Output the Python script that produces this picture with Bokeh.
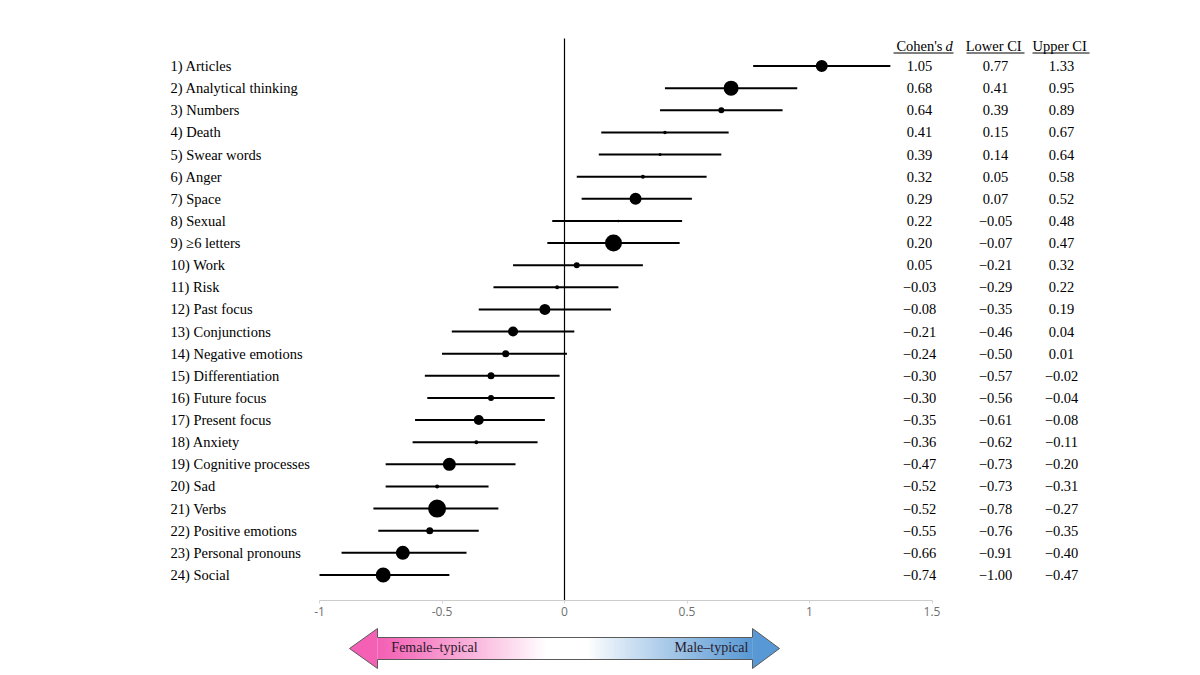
from bokeh.plotting import figure
from bokeh.models import Range1d, FixedTicker, ColumnDataSource
from bokeh.layouts import column
from bokeh.embed import file_html
from bokeh.resources import INLINE
from bokeh.core.properties import value

# ---- data -------------------------------------------------------------
categories = [
    "Articles", "Analytical  thinking", "Numbers", "Death", "Swear  words",
    "Anger", "Space", "Sexual", "\u22656 letters", "Work", "Risk",
    "Past focus", "Conjunctions", "Negative emotions", "Differentiation",
    "Future focus", "Present focus", "Anxiety", "Cognitive  processes",
    "Sad", "Verbs", "Positive  emotions", "Personal pronouns", "Social",
]
cohens_d = [1.05, 0.68, 0.64, 0.41, 0.39, 0.32, 0.29, 0.22, 0.20, 0.05,
            -0.03, -0.08, -0.21, -0.24, -0.30, -0.30, -0.35, -0.36, -0.47,
            -0.52, -0.52, -0.55, -0.66, -0.74]
lower_ci = [0.77, 0.41, 0.39, 0.15, 0.14, 0.05, 0.07, -0.05, -0.07, -0.21,
            -0.29, -0.35, -0.46, -0.50, -0.57, -0.56, -0.61, -0.62, -0.73,
            -0.73, -0.78, -0.76, -0.91, -1.00]
upper_ci = [1.33, 0.95, 0.89, 0.67, 0.64, 0.58, 0.52, 0.48, 0.47, 0.32,
            0.22, 0.19, 0.04, 0.01, -0.02, -0.04, -0.08, -0.11, -0.20,
            -0.31, -0.27, -0.35, -0.40, -0.47]
# relative weight of each category (marker diameter, px)
weight = [12, 15, 6, 3.5, 3, 4, 12, 2.5, 17, 6, 4, 11, 10, 7, 7, 6, 10, 4,
          13, 4, 18, 7, 14, 15]
x_ticks = [-1, -0.5, 0, 0.5, 1, 1.5]
x_tick_labels = ["-1", "-0.5", "0", "0.5", "1", "1.5"]


def fmt(v):
    s = f"{abs(v):.2f}"
    return ("\u2212" + s) if v < 0 else s


rows = list(range(1, len(categories) + 1))
src = ColumnDataSource(dict(
    row=rows,
    label=[f"{i}) {c}" for i, c in zip(rows, categories)],
    d=cohens_d, lo=lower_ci, hi=upper_ci, w=weight,
    d_txt=[fmt(v) for v in cohens_d],
    lo_txt=[fmt(v) for v in lower_ci],
    hi_txt=[fmt(v) for v in upper_ci],
))

# ---- geometry of the layout (px -> data) ------------------------------
PX_PER_UNIT = 245.0
ZERO_PX = 564.0


def xd(px):
    return (px - ZERO_PX) / PX_PER_UNIT


ROW0_PX, ROW_STEP = 65.5, 22.13
FRAME_H = 600


def yd(px):
    return 1 + (px - ROW0_PX) / ROW_STEP


serif = value("Liberation Serif")
FS = "14.5px"

p = figure(width=1200, height=625, output_backend="svg", toolbar_location=None,
           x_range=Range1d(xd(0), xd(1200)),
           y_range=Range1d(yd(FRAME_H), yd(0)),
           y_axis_location=None,
           min_border_left=0, min_border_right=0, min_border_top=0,
           min_border_bottom=25)
p.outline_line_color = None
p.xgrid.visible = False
p.ygrid.visible = False
p.background_fill_color = "white"
p.border_fill_color = "white"

ax = p.xaxis[0]
ax.ticker = FixedTicker(ticks=x_ticks)
ax.major_label_overrides = {t: s for t, s in zip(x_ticks, x_tick_labels)}
ax.bounds = (x_ticks[0], x_ticks[-1])
ax.axis_line_color = "#cccccc"
ax.major_tick_line_color = "#d4d4d4"
ax.major_tick_out = 3
ax.major_tick_in = 0
ax.minor_tick_line_color = None
ax.major_label_text_font = "Open Sans"
ax.major_label_text_font_size = "12px"
ax.major_label_text_color = "#707070"
ax.major_label_standoff = 3

# zero reference line
p.segment(x0=[0], y0=[yd(38)], x1=[0], y1=[yd(FRAME_H)],
          line_color="black", line_width=1.2)

# confidence intervals and point estimates
p.segment(x0="lo", y0="row", x1="hi", y1="row", source=src,
          line_color="black", line_width=2)
p.scatter(x="d", y="row", size="w", source=src, fill_color="black",
          line_color=None)

# category labels
p.text(x=xd(170), y="row", text="label", source=src, text_font=serif,
       text_font_size=FS, text_baseline="middle", text_align="left",
       text_color="black")

# table columns
col_d, col_lo, col_hi = xd(919), xd(995), xd(1061)
for cx, key in ((col_d, "d_txt"), (col_lo, "lo_txt"), (col_hi, "hi_txt")):
    p.text(x=cx, y="row", text=key, source=src, text_font=serif,
           text_font_size=FS, text_baseline="middle",
           text_align="center", text_color="black")

# table headers (underlined)
hy = yd(45)
p.text(x=[xd(942)], y=[hy], text=["Cohen's"], text_font=serif,
       text_font_size=FS, text_baseline="middle", text_align="right")
p.text(x=[xd(945)], y=[hy], text=["d"], text_font=serif,
       text_font_style="italic", text_font_size=FS,
       text_baseline="middle", text_align="left")
p.text(x=[xd(995), xd(1061)], y=[hy, hy], text=["Lower  CI", "Upper  CI"],
       text_font=serif, text_font_size=FS, text_baseline="middle",
       text_align="center")
uy = yd(52.5)
p.segment(x0=[xd(893), xd(966), xd(1032)], y0=[uy] * 3,
          x1=[xd(953), xd(1024), xd(1089)], y1=[uy] * 3,
          line_color="black", line_width=1)

# ---- direction arrow --------------------------------------------------
q = figure(width=1200, height=50, output_backend="svg", toolbar_location=None,
           x_range=p.x_range, y_range=Range1d(50, 0),
           x_axis_location=None, y_axis_location=None,
           min_border_left=0, min_border_right=0, min_border_top=0,
           min_border_bottom=0)
q.outline_line_color = None
q.xgrid.visible = False
q.ygrid.visible = False

tip_l, base_l, base_r, tip_r = xd(349), xd(377), xd(752), xd(779)
head_t, body_t, body_b, head_b, mid = 3, 12, 34, 43, 23
pink = (243, 96, 180)
blue = (88, 152, 212)
white = (255, 255, 255)


def mix(c1, c2, t):
    return "#%02x%02x%02x" % tuple(int(round(a + (b - a) * t)) for a, b in zip(c1, c2))


# horizontal colour ramp for the arrow body, built from overlapping strips
n = 160
step = (base_r - base_l) / n
lefts, rights, cols = [], [], []
for i in range(n):
    t = (i + 0.5) / n
    if t < 0.45:
        c = mix(pink, white, (t / 0.45) ** 1.1)
    elif t < 0.56:
        c = "#ffffff"
    else:
        c = mix(white, blue, ((t - 0.56) / 0.44) ** 0.9)
    lefts.append(base_l + i * step)
    rights.append(min(base_l + (i + 2) * step, base_r))
    cols.append(c)
q.quad(left=lefts, right=rights, top=[body_t] * n, bottom=[body_b] * n,
       fill_color=cols, line_color=None)
q.patch(x=[tip_l, base_l, base_l], y=[mid, head_t, head_b],
        fill_color=mix(pink, pink, 0), line_color=None)
q.patch(x=[tip_r, base_r, base_r], y=[mid, head_t, head_b],
        fill_color=mix(blue, blue, 0), line_color=None)
q.patch(x=[tip_l, base_l, base_l, base_r, base_r, tip_r, base_r, base_r,
           base_l, base_l],
        y=[mid, head_t, body_t, body_t, head_t, mid, head_b, body_b,
           body_b, head_b],
        fill_color=None, line_color="#5a5a5a", line_width=1)
q.text(x=[xd(434), xd(711)], y=[mid - 1, mid - 1],
       text=["Female\u2013typical", "Male\u2013typical"], text_font=serif,
       text_font_size="14px", text_baseline="middle", text_align="center",
       text_color="#2a1a2a")

layout = column(p, q, spacing=0)
open("out.html", "w").write(file_html(layout, INLINE))
